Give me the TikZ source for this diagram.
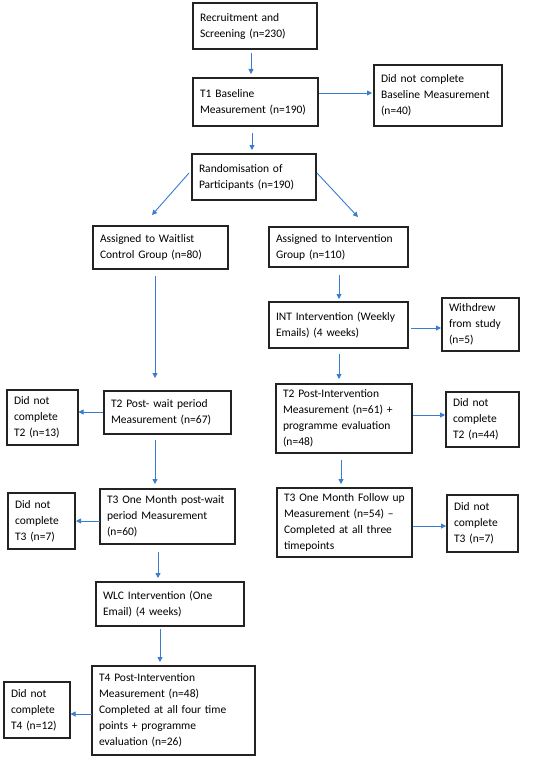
\documentclass[tikz,border=0pt]{standalone}
\usepackage{fontspec}
\setmainfont{Carlito}
\usetikzlibrary{arrows.meta,calc}
\definecolor{arrowblue}{RGB}{58,124,206}
\definecolor{boxline}{RGB}{35,35,35}
\newcommand\mybox[6]{%
  \pgfmathsetmacro\mbw{#4-#2}\pgfmathsetmacro\mbh{#5-#3}%
  \pgfmathsetmacro\mcx{(#2+#4)/2}\pgfmathsetmacro\mcy{(#3+#5)/2}%
  \pgfmathsetmacro\mtw{#4-#2-14}%
  \node[fbox, minimum width=\mbw pt, minimum height=\mbh pt, text width=\mtw pt] (#1) at (\mcx,\mcy) {#6};}
\begin{document}
\begin{tikzpicture}[x=1pt,y=-1pt,
  fbox/.style={draw=boxline, line width=1.2pt, inner xsep=7pt, inner ysep=0pt, outer sep=0pt,
    align=left, font=\fontsize{11.5}{16}\selectfont, text=black},
  arr/.style={draw=arrowblue, line width=0.9pt, -{Triangle[length=5pt,width=5pt]}}]
\fill[white] (0,0) rectangle (550,760);
\useasboundingbox (0,0) rectangle (550,760);

\mybox{rec}{193}{3}{317}{49}{Recruitment and\\Screening (n=230)}
\mybox{t1}{193}{78}{318}{126}{T1 Baseline\\Measurement (n=190)}
\mybox{dncb}{374}{65}{502}{126}{Did not complete\\Baseline Measurement\\(n=40)}
\mybox{rand}{192}{154}{316}{200}{Randomisation of\\Participants (n=190)}
\mybox{wait}{93}{226}{228}{269}{Assigned to Waitlist\\Control Group (n=80)}
\mybox{intg}{269}{227}{408}{267}{Assigned to Intervention\\Group (n=110)}
\mybox{int}{269}{302}{408}{348}{INT Intervention (Weekly\\Emails) (4 weeks)}
\mybox{withdrew}{442}{298}{519}{351}{Withdrew\\from study\\(n=5)}
\mybox{t2i}{276}{384}{412}{453}{T2 Post-Intervention\\Measurement (n=61) +\\programme evaluation\\(n=48)}
\mybox{dnct2r}{446}{392}{519}{447}{Did not\\complete\\T2 (n=44)}
\mybox{t2w}{104}{391}{231}{434}{T2 Post- wait period\\Measurement (n=67)}
\mybox{dnct2l}{7}{390}{78}{445}{Did not\\complete\\T2 (n=13)}
\mybox{t3w}{100}{489}{235}{544}{T3 One Month post-wait\\period Measurement\\(n=60)}
\mybox{dnct3l}{8}{493}{75}{549}{Did not\\complete\\T3 (n=7)}
\mybox{t3i}{277}{488}{412}{557}{T3 One Month Follow up\\Measurement (n=54) --\\Completed at all three\\timepoints}
\mybox{dnct3r}{447}{495}{518}{552}{Did not\\complete\\T3 (n=7)}
\mybox{wlc}{96}{582}{244}{626}{WLC Intervention (One\\Email) (4 weeks)}
\mybox{t4}{92}{666}{255}{755}{T4 Post-Intervention\\Measurement (n=48)\\Completed at all four time\\points + programme\\evaluation (n=26)}
\mybox{dnct4}{4}{682}{70}{738}{Did not\\complete\\T4 (n=12)}

% column / row guides
\coordinate (c1) at (251,0);
\coordinate (c3) at (252,0);
\coordinate (c6) at (155,0);
\coordinate (c7) at (339,0);
\coordinate (c13) at (341,0);
\coordinate (c16) at (158,0);
\coordinate (c17) at (160,0);
\coordinate (r2) at (0,93);
\coordinate (r8) at (0,328);
\coordinate (r10) at (0,415);
\coordinate (r11) at (0,412);
\coordinate (r14) at (0,521);
\coordinate (r15) at (0,526);
\coordinate (r18) at (0,714);

\draw[arr, shorten <=4pt, shorten >=4pt] (rec.south -| c1) -- (t1.north -| c1);
\draw[arr, shorten <=1pt, shorten >=2pt] (t1.east |- r2) -- (dncb.west |- r2);
\draw[arr, shorten <=7pt, shorten >=4pt] (t1.south -| c3) -- (rand.north -| c3);
\draw[arr] ($(rand.west)+(-3,-4)$) -- ($(wait.north)+(-8.5,-11)$);
\draw[arr] ($(rand.east)+(1,-4)$) -- ($(intg.north)+(19.5,-10)$);
\draw[arr, shorten <=7pt, shorten >=13pt] (wait.south -| c6) -- (t2w.north -| c6);
\draw[arr, shorten <=8pt, shorten >=3pt] (intg.south -| c7) -- (int.north -| c7);
\draw[arr, shorten <=3pt, shorten >=1pt] (int.east |- r8) -- (withdrew.west |- r8);
\draw[arr, shorten <=6pt, shorten >=5pt] (int.south -| c7) -- (t2i.north -| c7);
\draw[arr, shorten <=1pt, shorten >=1pt] (t2i.east |- r10) -- (dnct2r.west |- r10);
\draw[arr, shorten <=1pt, shorten >=0.5pt] (t2w.west |- r11) -- (dnct2l.east |- r11);
\draw[arr, shorten <=6pt, shorten >=5pt] (t2w.south -| c6) -- (t3w.north -| c6);
\draw[arr, shorten <=7pt, shorten >=4pt] (t2i.south -| c13) -- (t3i.north -| c13);
\draw[arr, shorten <=0.5pt, shorten >=1pt] (t3w.west |- r14) -- (dnct3l.east |- r14);
\draw[arr, shorten <=1pt, shorten >=1pt] (t3i.east |- r15) -- (dnct3r.west |- r15);
\draw[arr, shorten <=8pt, shorten >=4pt] (t3w.south -| c16) -- (wlc.north -| c16);
\draw[arr, shorten <=3pt, shorten >=4pt] (wlc.south -| c17) -- (t4.north -| c17);
\draw[arr, shorten <=0.5pt, shorten >=0.5pt] (t4.west |- r18) -- (dnct4.east |- r18);
\end{tikzpicture}
\end{document}
